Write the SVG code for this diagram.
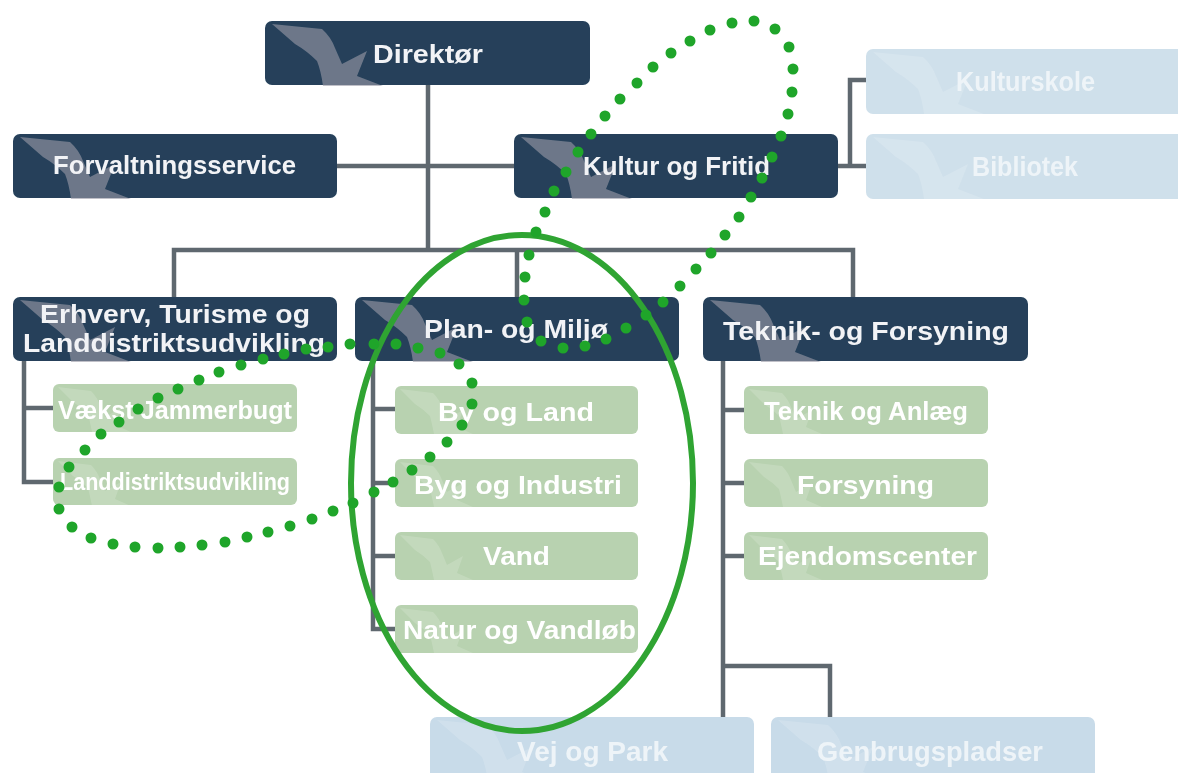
<svg xmlns="http://www.w3.org/2000/svg" width="1178" height="773" viewBox="0 0 1178 773">
<style>
text{font-family:"Liberation Sans",Arial,sans-serif;font-weight:700;font-size:26px;fill:#fff}
.dark rect{fill:#25405a}.dark use{fill:#9a9aa6;opacity:.62}.dark text{fill:#f2f3f6}
.green rect{fill:#b8d2b0}.green use{fill:#fff;opacity:.16}
.blue rect{fill:#cfe0eb}.blue use{fill:#fff;opacity:.16}.blue text{fill:#eef4f8;font-size:28px}
.bl2 rect{fill:#c8dbe9}
.node{filter:url(#soft)}
#connectors path{fill:none;stroke:#5f686f;stroke-width:4.5}
#ring{fill:none;stroke:#2fa432;stroke-width:6}
#dots{fill:none;stroke:#1fa52a;stroke-width:11;stroke-linecap:round}
</style>
<defs>
<filter id="soft" x="-5%" y="-5%" width="110%" height="110%"><feGaussianBlur stdDeviation="0.7"/></filter>
<path id="bird" d="M7 3L57 8Q66 16 70 27L77 43L102 30L92 55L118 65H58Q56 50 52 40Q42 30 30 23Z"/>
<path id="birdS" d="M5 3L38 7Q44 13 47 21L52 33L68 24L62 41L78 48H39Q37 38 35 30Q28 23 20 18Z"/>
</defs>
<rect width="1178" height="773" fill="#fff"/>
<g id="connectors">
<path d="M428 85V250M337 166H514M174 297V250H853V297M517 250V297"/>
<path d="M838 166H866M850 166V80H866"/>
<path d="M24 361V482H53M24 408H53"/>
<path d="M373 361V629H395M373 409H395M373 483H395M373 556H395"/>
<path d="M723 361V717M723 410H744M723 483H744M723 556H744M723 666H830V717"/>
</g>
<g id="n-direktor" class="node dark"><rect x="265" y="21" width="325" height="64" rx="7"/><use href="#bird" x="265" y="21"/><text x="373" y="63" textLength="110" lengthAdjust="spacingAndGlyphs">Direktør</text></g>
<g id="n-forvaltning" class="node dark"><rect x="13" y="134" width="324" height="64" rx="7"/><use href="#bird" x="13" y="134"/><text x="53" y="174" textLength="243" lengthAdjust="spacingAndGlyphs">Forvaltningsservice</text></g>
<g id="n-kultur" class="node dark"><rect x="514" y="134" width="324" height="64" rx="7"/><use href="#bird" x="514" y="134"/><text x="583" y="175" textLength="187" lengthAdjust="spacingAndGlyphs">Kultur og Fritid</text></g>
<g id="n-kulturskole" class="node blue"><rect x="866" y="49" width="330" height="65" rx="7"/><use href="#bird" x="866" y="49"/><text x="956" y="91" textLength="139" lengthAdjust="spacingAndGlyphs">Kulturskole</text></g>
<g id="n-bibliotek" class="node blue"><rect x="866" y="134" width="330" height="65" rx="7"/><use href="#bird" x="866" y="134"/><text x="972" y="176" textLength="106" lengthAdjust="spacingAndGlyphs">Bibliotek</text></g>
<g id="n-erhverv" class="node dark"><rect x="13" y="297" width="324" height="64" rx="7"/><use href="#bird" x="13" y="297"/><text x="40" y="323" textLength="270" lengthAdjust="spacingAndGlyphs">Erhverv, Turisme og</text><text x="23" y="352" textLength="302" lengthAdjust="spacingAndGlyphs">Landdistriktsudvikling</text></g>
<g id="n-plan" class="node dark"><rect x="355" y="297" width="324" height="64" rx="7"/><use href="#bird" x="355" y="297"/><text x="424" y="338" textLength="184" lengthAdjust="spacingAndGlyphs">Plan- og Miljø</text></g>
<g id="n-teknik" class="node dark"><rect x="703" y="297" width="325" height="64" rx="7"/><use href="#bird" x="703" y="297"/><text x="723" y="340" textLength="286" lengthAdjust="spacingAndGlyphs">Teknik- og Forsyning</text></g>
<g id="n-vaekst" class="node green"><rect x="53" y="384" width="244" height="48" rx="6"/><use href="#birdS" x="53" y="384"/><text x="58" y="419" style="font-size:25px" textLength="234" lengthAdjust="spacingAndGlyphs">Vækst Jammerbugt</text></g>
<g id="n-landdistrikt" class="node green"><rect x="53" y="458" width="244" height="47" rx="6"/><use href="#birdS" x="53" y="458"/><text x="60" y="490" style="font-size:23px" textLength="230" lengthAdjust="spacingAndGlyphs">Landdistriktsudvikling</text></g>
<g id="n-by" class="node green"><rect x="395" y="386" width="243" height="48" rx="6"/><use href="#birdS" x="395" y="386"/><text x="438" y="421" textLength="156" lengthAdjust="spacingAndGlyphs">By og Land</text></g>
<g id="n-byg" class="node green"><rect x="395" y="459" width="243" height="48" rx="6"/><use href="#birdS" x="395" y="459"/><text x="414" y="494" textLength="208" lengthAdjust="spacingAndGlyphs">Byg og Industri</text></g>
<g id="n-vand" class="node green"><rect x="395" y="532" width="243" height="48" rx="6"/><use href="#birdS" x="395" y="532"/><text x="483" y="565" textLength="67" lengthAdjust="spacingAndGlyphs">Vand</text></g>
<g id="n-natur" class="node green"><rect x="395" y="605" width="243" height="48" rx="6"/><use href="#birdS" x="395" y="605"/><text x="403" y="639" textLength="233" lengthAdjust="spacingAndGlyphs">Natur og Vandløb</text></g>
<g id="n-anlaeg" class="node green"><rect x="744" y="386" width="244" height="48" rx="6"/><use href="#birdS" x="744" y="386"/><text x="764" y="420" textLength="204" lengthAdjust="spacingAndGlyphs">Teknik og Anlæg</text></g>
<g id="n-forsyning" class="node green"><rect x="744" y="459" width="244" height="48" rx="6"/><use href="#birdS" x="744" y="459"/><text x="797" y="494" textLength="137" lengthAdjust="spacingAndGlyphs">Forsyning</text></g>
<g id="n-ejendom" class="node green"><rect x="744" y="532" width="244" height="48" rx="6"/><use href="#birdS" x="744" y="532"/><text x="758" y="565" textLength="219" lengthAdjust="spacingAndGlyphs">Ejendomscenter</text></g>
<g id="n-vej" class="node blue bl2"><rect x="430" y="717" width="324" height="70" rx="7"/><use href="#bird" x="430" y="717"/><text x="517" y="761" textLength="151" lengthAdjust="spacingAndGlyphs">Vej og Park</text></g>
<g id="n-genbrug" class="node blue bl2"><rect x="771" y="717" width="324" height="70" rx="7"/><use href="#bird" x="771" y="717"/><text x="817" y="761" textLength="226" lengthAdjust="spacingAndGlyphs">Genbrugspladser</text></g>
<ellipse id="ring" cx="522" cy="483" rx="171" ry="248"/>
<path id="dots" d="M328 347h0M350 344h0M374 344h0M396 344h0M418 348h0M440 353h0M459 364h0M472 383h0M472 404h0M462 425h0M447 442h0M430 457h0M412 470h0M393 482h0M374 492h0M353 503h0M333 511h0M312 519h0M290 526h0M268 532h0M247 537h0M225 542h0M202 545h0M180 547h0M158 548h0M135 547h0M113 544h0M91 538h0M72 527h0M59 509h0M59 487h0M69 467h0M85 450h0M101 434h0M119 422h0M138 409h0M158 398h0M178 389h0M199 380h0M219 372h0M241 365h0M263 359h0M284 354h0M306 349h0M754 21h0M775 29h0M789 47h0M793 69h0M792 92h0M788 114h0M781 136h0M772 157h0M762 178h0M751 197h0M739 217h0M725 235h0M711 253h0M696 269h0M680 286h0M663 302h0M646 315h0M626 328h0M606 339h0M585 346h0M563 348h0M541 341h0M527 322h0M524 300h0M525 277h0M529 255h0M536 232h0M545 212h0M554 191h0M566 172h0M578 152h0M591 134h0M605 116h0M620 99h0M637 83h0M653 67h0M671 53h0M690 41h0M710 30h0M732 23h0"/>
</svg>
